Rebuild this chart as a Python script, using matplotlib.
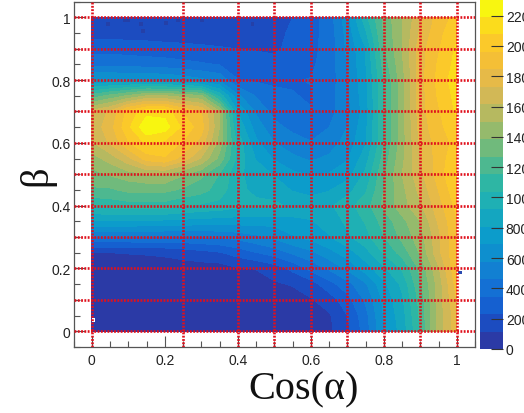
import matplotlib
matplotlib.use('Agg')
import matplotlib.pyplot as plt
import numpy as np
from matplotlib.ticker import MultipleLocator

# values, rows go from beta=0 up to beta=1
cos_alpha = [0, .05, .1, .15, .2, .25, .3, .35, .4, .45, .5, .55, .6, .65, .7, .75, .8, .85, .9, .95, 1]
beta = [0, .05, .1, .15, .2, .25, .3, .35, .4, .45, .5, .55, .6, .65, .7, .75, .8, .85, .9, .95, 1]
counts = [
    [60, 60, 60, 60, 60, 60, 60, 60, 60, 60, 60, 60, 60, 90, 200, 400, 680, 850, 1150, 1550, 1800],
    [60, 60, 60, 60, 60, 60, 60, 60, 60, 60, 60, 60, 60, 100, 230, 420, 700, 870, 1180, 1550, 1800],
    [60, 60, 60, 60, 60, 60, 60, 60, 60, 60, 60, 60, 105, 170, 300, 480, 720, 900, 1200, 1550, 1850],
    [60, 60, 60, 60, 60, 60, 60, 60, 60, 60, 100, 125, 180, 300, 420, 560, 780, 950, 1250, 1550, 1900],
    [60, 60, 60, 60, 60, 60, 60, 60, 105, 120, 170, 260, 380, 480, 600, 750, 900, 1050, 1300, 1600, 1950],
    [110, 115, 120, 125, 135, 160, 190, 220, 280, 340, 400, 480, 550, 650, 750, 880, 1050, 1200, 1400, 1700, 1950],
    [450, 450, 450, 450, 450, 450, 460, 470, 500, 550, 600, 680, 730, 800, 900, 1000, 1150, 1300, 1450, 1700, 1950],
    [800, 800, 800, 790, 780, 770, 760, 750, 750, 740, 740, 770, 800, 850, 950, 1050, 1200, 1350, 1500, 1750, 1950],
    [1050, 1080, 1100, 1100, 1100, 1050, 1020, 1000, 950, 950, 950, 900, 870, 900, 1000, 1100, 1300, 1450, 1600, 1800, 2000],
    [1250, 1250, 1300, 1300, 1300, 1250, 1200, 1100, 950, 900, 870, 800, 770, 800, 880, 1020, 1270, 1470, 1650, 1850, 2050],
    [1350, 1400, 1450, 1500, 1500, 1400, 1300, 1150, 950, 870, 800, 720, 680, 700, 760, 950, 1250, 1500, 1700, 1900, 2100],
    [1450, 1550, 1700, 1900, 1950, 1800, 1600, 1350, 1000, 800, 680, 600, 560, 600, 680, 870, 1200, 1470, 1720, 1900, 2050],
    [1600, 1750, 1950, 2100, 2050, 1950, 1800, 1450, 1000, 720, 580, 520, 470, 520, 620, 800, 1150, 1450, 1750, 1900, 2000],
    [1650, 1800, 2050, 2290, 2250, 2050, 1900, 1500, 900, 640, 500, 430, 400, 460, 580, 780, 1150, 1450, 1780, 1930, 2050],
    [1650, 1750, 2000, 2150, 2150, 1950, 1850, 1500, 800, 560, 420, 370, 350, 420, 540, 750, 1150, 1450, 1800, 1950, 2100],
    [1200, 1300, 1400, 1500, 1500, 1450, 1400, 1000, 600, 450, 370, 350, 340, 410, 550, 770, 1150, 1450, 1800, 1980, 2120],
    [700, 700, 700, 700, 680, 650, 600, 550, 350, 330, 330, 340, 350, 400, 560, 780, 1150, 1450, 1800, 2000, 2150],
    [430, 430, 420, 410, 400, 380, 360, 340, 300, 290, 290, 320, 330, 390, 580, 800, 1200, 1480, 1800, 1980, 2120],
    [300, 300, 290, 280, 270, 260, 250, 240, 230, 220, 200, 280, 320, 380, 600, 800, 1250, 1500, 1800, 1950, 2100],
    [180, 180, 180, 180, 175, 175, 175, 170, 170, 175, 180, 260, 310, 390, 620, 900, 1280, 1500, 1750, 1930, 2050],
    [170, 170, 170, 170, 170, 170, 170, 170, 170, 170, 170, 230, 300, 400, 650, 1000, 1300, 1500, 1700, 1900, 2000],
]
grid_x = [0, .25, .4, .5, .6, .7, .8, .9, 1]
grid_y = [0, .1, .2, .3, .4, .5, .6, .7, .8, .9, 1]
cbar_ticks = [0, 200, 400, 600, 800, 1000, 1200, 1400, 1600, 1800, 2000, 2200]
# stray bins
dark_x = [.044, .09, .10, .135, .14, .204, .236, .302, .44]
dark_y = [.978, .989, .989, .978, .957, .981, .989, .989, .978]
empty_x = [.005]
empty_y = [.036]
outlier_x = [1.008]
outlier_y = [.187]

# palette bands as they look in the colour bar, bottom to top
band_colors = ['#2b3aa6', '#1c4cc0', '#1560d0', '#1470d4', '#1280d2', '#0e8fce', '#0c9ccb',
               '#14a6c0', '#1fb0b4', '#2eb6a4', '#4db890', '#70ba7c', '#95ba6c', '#b6b960',
               '#d2b856', '#e6ba48', '#f4bf36', '#fbc92a', '#fbdc1c', '#f8f610']
levels = np.linspace(0, 2310, 21)

W, H = 524, 414
plt.rcParams['font.family'] = ['Liberation Sans', 'DejaVu Sans']
fig = plt.figure(figsize=(W / 100, H / 100), dpi=100)
ax = fig.add_axes([73.5 / W, 1 - 348 / H, 401.5 / W, 345.5 / H])
cax = fig.add_axes([480 / W, 1 - 350 / H, 23 / W, 350 / H])

cs = ax.contourf(cos_alpha, beta, counts, levels=levels, colors=band_colors, zorder=1)
ax.scatter(dark_x, dark_y, s=7, marker='s', c='#2440a8', edgecolor='none', zorder=2)
ax.scatter(empty_x, empty_y, s=7, marker='s', c='white', edgecolor='none', zorder=2)
ax.scatter(outlier_x, outlier_y, s=7, marker='s', c='#2a4ab0', edgecolor='none', zorder=2)

ax.set_xlim(-.05, 1.05)
ax.set_ylim(-.05, 1.05)
for x in grid_x:
    ax.axvline(x, color='#e0101c', lw=1.9, ls=(0, (.7, .55)), zorder=3)
for y in grid_y:
    ax.axhline(y, color='#e0101c', lw=1.9, ls=(0, (.7, .55)), zorder=3)

for s in ax.spines.values():
    s.set_color('#555555')
    s.set_linewidth(.9)
ax.xaxis.set_minor_locator(MultipleLocator(.05))
ax.yaxis.set_minor_locator(MultipleLocator(.05))
ax.set_xticks([0, .2, .4, .6, .8, 1], ['0', '0.2', '0.4', '0.6', '0.8', '1'])
ax.set_yticks([0, .2, .4, .6, .8, 1], ['0', '0.2', '0.4', '0.6', '0.8', '1'])
ax.tick_params(which='major', direction='in', length=8, width=.8, color='#555555', labelsize=10, labelcolor='#222222')
ax.tick_params(which='minor', direction='in', length=4, width=.8, color='#555555')
ax.tick_params(axis='x', which='major', pad=4)
ax.tick_params(axis='y', which='major', pad=2)

# the labels run off the right edge in the original too
cb = fig.colorbar(cs, cax=cax)
cb.outline.set_visible(False)
cb.set_ticks(cbar_ticks)
cb.set_ticklabels([str(t) for t in cbar_ticks])
cb.ax.minorticks_off()
cb.ax.tick_params(direction='in', length=8.5, width=.8, color='#333333', labelsize=10, labelcolor='#222222', pad=2)

fig.text(304 / W, 1 - 390 / H, 'Cos(α)', family='Liberation Serif', fontsize=29, ha='center', va='center', color='#111111')
fig.text(37 / W, 1 - 176 / H, 'β', family='Liberation Serif', fontsize=29, rotation=90, ha='center', va='center', color='#111111')

fig.savefig('out.png', dpi=100)
